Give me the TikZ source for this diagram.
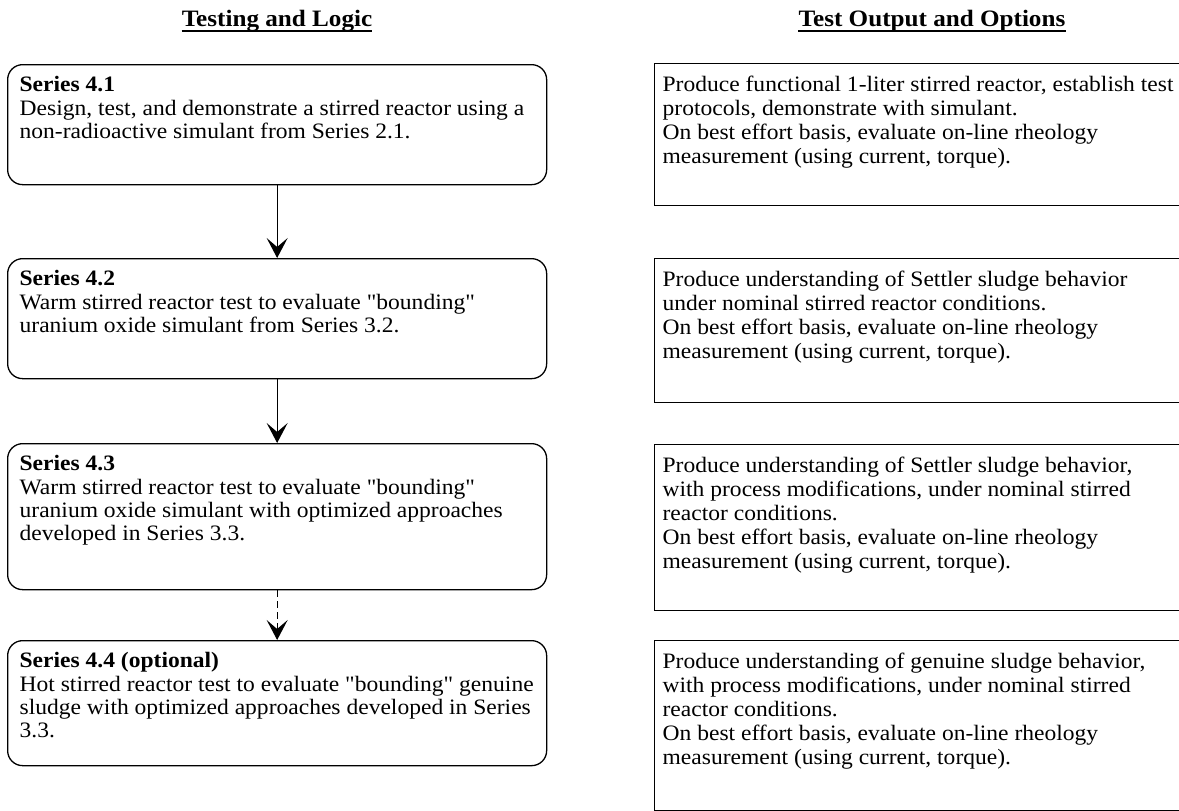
\documentclass[tikz,border=0pt]{standalone}
\usepackage{fontspec}
\setmainfont{Liberation Serif}[Ligatures=TeXOff, FakeStretch=1.07]
\usetikzlibrary{arrows.meta}
\newcommand{\lcontent}[2]{\parbox[c][#1][t]{515pt}{\fontsize{22}{23.3}\selectfont #2}}
\newcommand{\rcontent}[2]{\parbox[c][#1][t]{520pt}{\fontsize{22}{24.2}\selectfont #2}}
\begin{document}
\begin{tikzpicture}[x=1pt,y=-1pt,
  every node/.style={font=\fontsize{22}{24}\selectfont},
  title/.style={font=\fontsize{23.5}{26}\selectfont\bfseries, inner sep=0pt, anchor=base},
  titleline/.style={line width=2.6pt},
  leftbox/.style={draw, line width=1.3pt, rounded corners=15pt, anchor=north west, inner xsep=12pt, inner ysep=12pt},
  rightbox/.style={draw, line width=1.3pt, anchor=north west, inner xsep=8pt, inner ysep=12pt},
  flow/.style={line width=1.3pt, -{Stealth[length=20pt,width=21pt,inset=9pt]}},
  optflow/.style={flow, dash pattern=on 7pt off 4pt}
]
\clip (0,0) rectangle (1179,811);
\useasboundingbox (0,0) rectangle (1179,811);

\node[title] (t1) at (277,26) {Testing and Logic};
\node[title] (t2) at (932,26) {Test Output and Options};
\draw[titleline] ([yshift=-5pt]t1.base west) -- ([yshift=-5pt]t1.base east);
\draw[titleline] ([yshift=-5pt]t2.base west) -- ([yshift=-5pt]t2.base east);

\node[leftbox] (s1) at (7,64) {\lcontent{96pt}{\textbf{Series 4.1}\\Design, test, and demonstrate a stirred reactor using a\\non-radioactive simulant from Series 2.1.}};
\node[leftbox] (s2) at (7,258) {\lcontent{96pt}{\textbf{Series 4.2}\\Warm stirred reactor test to evaluate "bounding"\\uranium oxide simulant from Series 3.2.}};
\node[leftbox] (s3) at (7,443) {\lcontent{122pt}{\textbf{Series 4.3}\\Warm stirred reactor test to evaluate "bounding"\\uranium oxide simulant with optimized approaches\\developed in Series 3.3.}};
\node[leftbox] (s4) at (7,640) {\lcontent{101pt}{\textbf{Series 4.4 (optional)}\\Hot stirred reactor test to evaluate "bounding" genuine\\sludge with optimized approaches developed in Series\\3.3.}};

\draw[flow] (s1.south) -- (s2.north);
\draw[flow] (s2.south) -- (s3.north);
\draw[optflow] (s3.south) -- (s4.north);

\node[rightbox] (o1) at (654,63) {\rcontent{118pt}{Produce functional 1-liter stirred reactor, establish test\\protocols, demonstrate with simulant.\\On best effort basis, evaluate on-line rheology\\measurement (using current, torque).}};
\node[rightbox] (o2) at (654,258) {\rcontent{120pt}{Produce understanding of Settler sludge behavior\\under nominal stirred reactor conditions.\\On best effort basis, evaluate on-line rheology\\measurement (using current, torque).}};
\node[rightbox] (o3) at (654,444) {\rcontent{142pt}{Produce understanding of Settler sludge behavior,\\with process modifications, under nominal stirred\\reactor conditions.\\On best effort basis, evaluate on-line rheology\\measurement (using current, torque).}};
\node[rightbox] (o4) at (654,640) {\rcontent{146pt}{Produce understanding of genuine sludge behavior,\\with process modifications, under nominal stirred\\reactor conditions.\\On best effort basis, evaluate on-line rheology\\measurement (using current, torque).}};
\end{tikzpicture}
\end{document}
